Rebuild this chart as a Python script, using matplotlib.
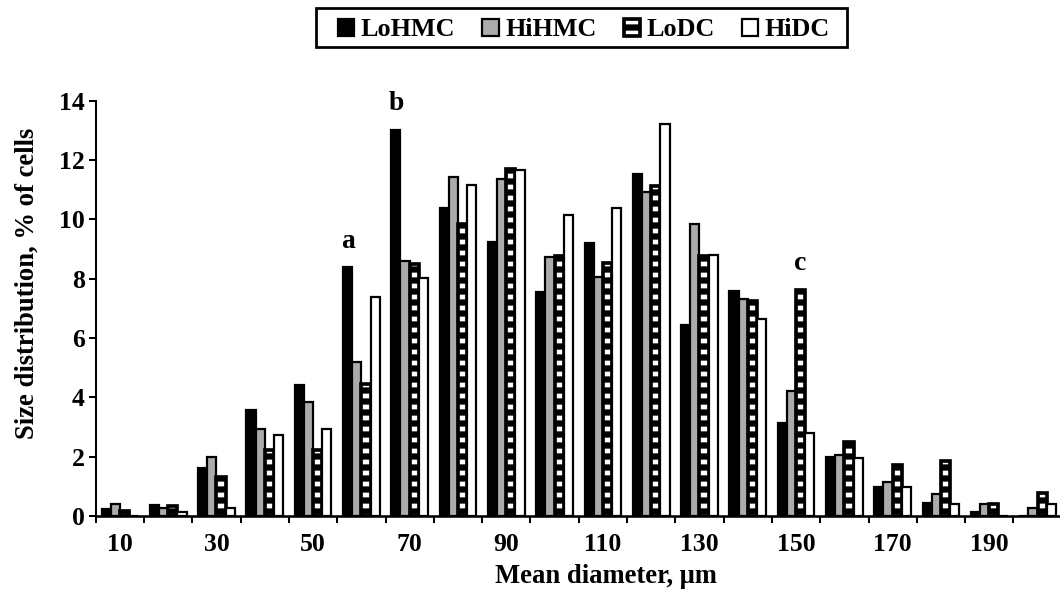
import numpy as np
import matplotlib.pyplot as plt
from matplotlib.patches import Rectangle

# mean diameter classes (um) and size distribution (% of cells)
sizes = [10, 20, 30, 40, 50, 60, 70, 80, 90, 100,
         110, 120, 130, 140, 150, 160, 170, 180, 190, 200]
lohmc = [0.25, 0.38, 1.63, 3.59, 4.42, 8.39, 13.03, 10.37, 9.23, 7.54,
         9.21, 11.54, 6.45, 7.58, 3.12, 2.0, 0.99, 0.43, 0.15, 0.0]
hihmc = [0.42, 0.26, 2.0, 2.94, 3.83, 5.18, 8.59, 11.43, 11.35, 8.73,
         8.05, 10.92, 9.85, 7.32, 4.22, 2.06, 1.15, 0.73, 0.4, 0.28]
lodc = [0.18, 0.33, 1.33, 2.22, 2.22, 4.45, 8.5, 9.83, 11.71, 8.78,
        8.52, 11.12, 8.78, 7.24, 7.63, 2.49, 1.71, 1.86, 0.4, 0.78]
hidc = [0.0, 0.12, 0.28, 2.74, 2.94, 7.40, 8.03, 11.15, 11.68, 10.14,
        10.38, 13.23, 8.8, 6.63, 2.81, 1.95, 0.98, 0.4, 0.0, 0.4]
series_names = ['LoHMC', 'HiHMC', 'LoDC', 'HiDC']
tick_labels = [str(s) if i % 2 == 0 else '' for i, s in enumerate(sizes)]
notes = [('a', 5, 0, lohmc), ('b', 6, 0, lohmc), ('c', 14, 2, lodc)]

plt.rcParams['font.family'] = ['Liberation Serif', 'DejaVu Serif']
plt.rcParams['font.weight'] = 'bold'
plt.rcParams['hatch.linewidth'] = 3.4

dpi = 132.5
fig = plt.figure(figsize=(1060 / dpi, 593 / dpi), dpi=dpi)
ax = fig.add_axes([0.0903, 0.1298, 0.9113, 0.7003])

x = np.arange(len(sizes))
w = 0.19
offs = [-1.5 * w, -0.5 * w, 0.5 * w, 1.5 * w]
lw = 1.2
b1 = ax.bar(x + offs[0], lohmc, w, color='black', edgecolor='black', lw=lw, label=series_names[0])
b2 = ax.bar(x + offs[1], hihmc, w, color='#ababab', edgecolor='black', lw=lw, label=series_names[1])
b3 = ax.bar(x + offs[2], lodc, w, color='white', edgecolor='black', lw=2.0, hatch='--', label=series_names[2])
b4 = ax.bar(x + offs[3], hidc, w, color='white', edgecolor='black', lw=lw, label=series_names[3])

for txt, i, k, vals in notes:
    ax.text(x[i] + offs[k], vals[i] + 0.45, txt, ha='center', va='bottom',
            fontsize=15, fontweight='bold', clip_on=False)

ax.set_xlim(-0.5, len(sizes) - 0.5)
ax.set_ylim(0, 14)
ax.set_yticks(np.arange(0, 15, 2))
ax.set_xticks(x)
ax.set_xticklabels(tick_labels)
ax.set_xticks(np.arange(-0.5, len(sizes), 1), minor=True)
ax.tick_params(axis='x', which='major', length=0, pad=9, labelsize=14)
ax.tick_params(axis='x', which='minor', length=4, width=1.1, direction='out')
ax.tick_params(axis='y', length=4, width=1.1, pad=2, labelsize=14)

for s in ['top', 'right']:
    ax.spines[s].set_visible(False)
ax.spines['left'].set_linewidth(1.1)
ax.spines['bottom'].set_linewidth(1.4)

ax.set_xlabel('Mean diameter, \u03bcm', fontsize=14.5, fontweight='bold')
ax.xaxis.set_label_coords(0.528, -0.115)
ax.set_ylabel('Size distribution, % of cells', fontsize=14.5, fontweight='bold')
ax.yaxis.set_label_coords(-0.058, 0.561)

# legend box at the top
fig.patches.append(Rectangle((316 / 1060, 1 - 47 / 593), 531 / 1060, 39 / 593,
                             transform=fig.transFigure, fill=False, lw=1.5,
                             edgecolor='black'))
leg = fig.legend(handles=[b1, b2, b3, b4], loc='center',
                 bbox_to_anchor=(338 / 1060, 1 - 30 / 593, 492 / 1060, 0), mode='expand',
                 ncol=4, frameon=False, prop={'size': 14.2, 'weight': 'bold'},
                 handlelength=0.62, handleheight=0.62, handletextpad=0.25,
                 columnspacing=1.0, borderpad=0.0, borderaxespad=0.0)

fig.savefig('out.png', dpi=dpi)
